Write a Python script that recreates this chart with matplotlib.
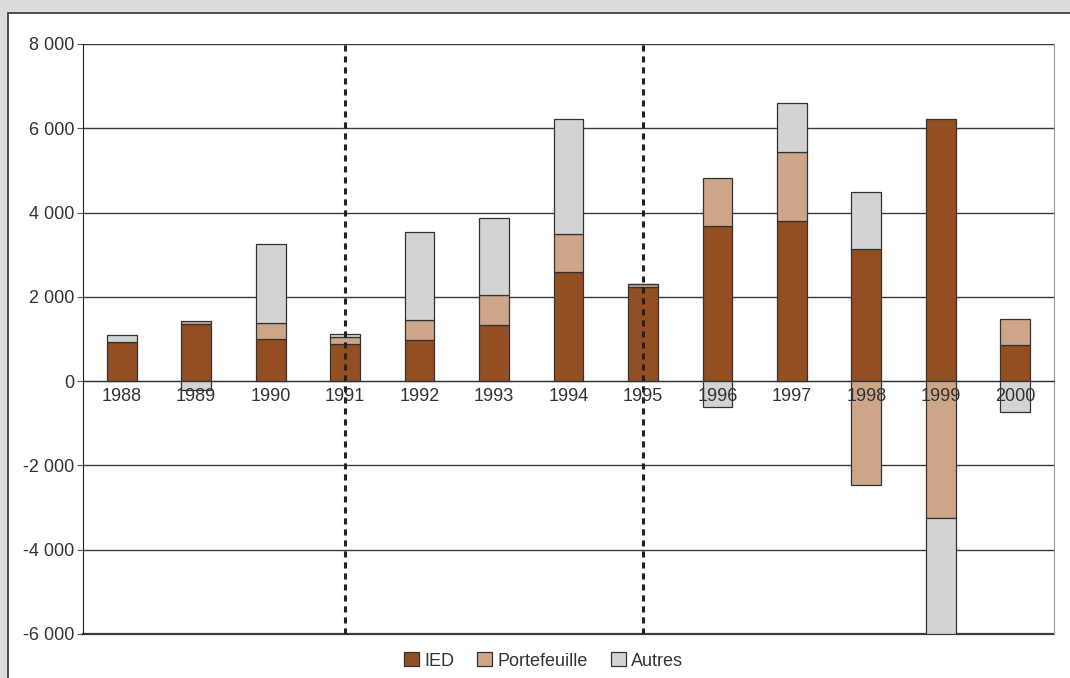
import matplotlib.pyplot as plt
import matplotlib.patches as mpatches
import numpy as np

plt.rcParams["font.family"] = ["Liberation Sans", "DejaVu Sans"]

years = ["1988", "1989", "1990", "1991", "1992", "1993", "1994",
         "1995", "1996", "1997", "1998", "1999", "2000"]
ied = [930, 1350, 1000, 870, 980, 1330, 2580, 2240, 3690, 3810, 3125, 6210, 855]
portefeuille = [0, 80, 375, 180, 465, 710, 900, 60, 1120, 1630, -2470, -3250, 630]
autres = [160, -210, 1875, 80, 2090, 1830, 2750, 0, -620, 1150, 1370, -2750, -740]

series = [("IED", ied, "#934f22"),
          ("Portefeuille", portefeuille, "#cda68a"),
          ("Autres", autres, "#d2d3d5")]

y_ticks = [-6000, -4000, -2000, 0, 2000, 4000, 6000, 8000]
y_labels = ["-6 000", "-4 000", "-2 000", "0", "2 000", "4 000", "6 000", "8 000"]
break_years = ["1991", "1995"]

fig = plt.figure(figsize=(10.7, 6.78), dpi=100, facecolor="#dcdcde")
# white panel with a dark frame, kept behind the axes
fig.patches.append(mpatches.Rectangle((8 / 1070, -0.05), 1.1, 1 - 12.5 / 678 + 0.05,
                                      transform=fig.transFigure, facecolor="white",
                                      edgecolor="#333333", linewidth=1.2, zorder=-5))

ax = fig.add_axes([83 / 1070, 1 - 634 / 678, 971 / 1070, 590 / 678])
ax.set_facecolor("white")

x = np.arange(len(years))
pos_base = np.zeros(len(years))
neg_base = np.zeros(len(years))
for name, vals, color in series:
    vals = np.array(vals, dtype=float)
    base = np.where(vals >= 0, pos_base, neg_base)
    ax.bar(x, vals, bottom=base, width=0.4, color=color, edgecolor="#333333",
           linewidth=0.9, label=name, zorder=3)
    pos_base += np.where(vals > 0, vals, 0)
    neg_base += np.where(vals < 0, vals, 0)

ax.set_xlim(-0.52, len(years) - 0.48)
ax.set_ylim(-6000, 8000)
ax.set_yticks(y_ticks)
ax.set_yticklabels(y_labels)
ax.yaxis.grid(True, color="#3a3a3a", linewidth=1.0)
ax.set_axisbelow(True)
# the bottom edge of the plot is a full dark line
ax.axhline(-6000, color="#3a3a3a", linewidth=1.6, clip_on=False, zorder=1)

ax.set_xticks(x)
ax.set_xticklabels(years)
ax.xaxis.set_zorder(5)  # year labels sit on top of the bars
ax.spines["bottom"].set_position(("data", 0))
ax.spines["bottom"].set_color("#333333")
ax.spines["bottom"].set_zorder(4)
ax.spines["top"].set_visible(False)
ax.spines["right"].set_color("#999999")
ax.spines["left"].set_color("#222222")
ax.tick_params(axis="x", length=0, pad=5, labelsize=13, labelcolor="#333333")
ax.tick_params(axis="y", length=4, width=0.8, color="#555555", pad=2,
               labelsize=13, labelcolor="#333333")

for yr in break_years:
    ax.axvline(years.index(yr), color="#222222", linewidth=2.2,
               linestyle=(0, (2, 1.6)), zorder=4)

handles = [mpatches.Patch(facecolor=c, edgecolor="#333333", linewidth=0.9, label=n)
           for n, _, c in series]
fig.legend(handles=handles, loc="center", bbox_to_anchor=(0.508, 1 - 661 / 678),
           ncol=3, frameon=False, fontsize=13, handlelength=0.8, handleheight=0.8,
           handletextpad=0.3, columnspacing=1.3, labelcolor="#333333")

fig.savefig("out.png", dpi=100, facecolor=fig.get_facecolor())
